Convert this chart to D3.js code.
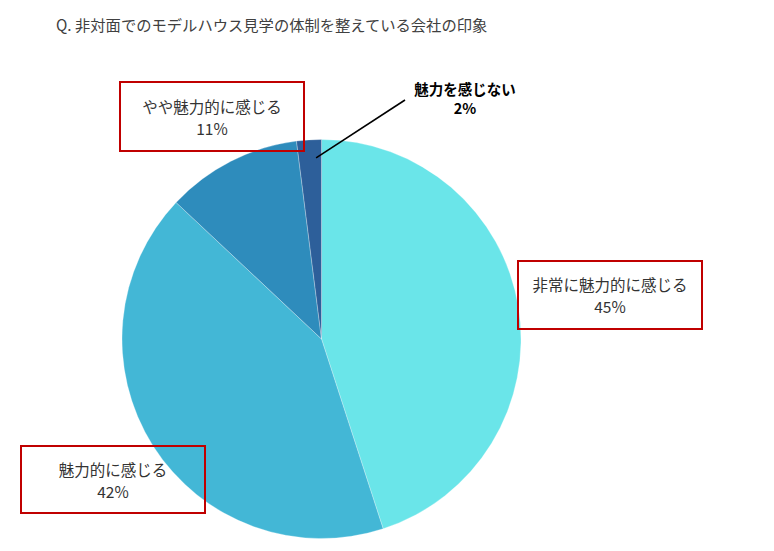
<!DOCTYPE html>
<html>
<head>
<meta charset="utf-8">
<script src="https://cdn.jsdelivr.net/npm/d3@7"></script>
<style>
body{margin:0;background:#fff;}
text{font-family:"Noto Sans CJK JP","Noto Sans",sans-serif;}
</style>
</head>
<body>
<script>
var WIDTH = 774, HEIGHT = 551;
var CX = 321.5, CY = 339, RADIUS = 199.5;

var categories = ["非常に魅力的に感じる","魅力的に感じる","やや魅力的に感じる","魅力を感じない"];
var values = [45, 42, 11, 2];
var colors = ["#6ae5e9","#43b7d6","#2e8cbc","#2d5f9a"];
var title = "Q. 非対面でのモデルハウス見学の体制を整えている会社の印象";

// label boxes (x, y, w, h) for the boxed labels, text centres for the rest
var boxes = [
	{x:518, y:261, w:184, h:68},
	{x:21, y:446, w:184, h:67},
	{x:120, y:82, w:184, h:69},
	null
];

var _svg = d3.select('body').append('svg')
	.attr('width',WIDTH)
	.attr('height',HEIGHT);

_svg.append('text')
	.attr('x',56).attr('y',31)
	.attr('font-size',15.3)
	.attr('fill','#404040')
	.text(title);

var pie = d3.pie().sort(null).value(function(d){return d});
var arc = d3.arc().innerRadius(0).outerRadius(RADIUS);
var arcs = pie(values);

var g = _svg.append('g').attr('transform','translate('+CX+','+CY+')');

g.selectAll('path').data(arcs)
	.enter()
	.append('path')
	.attr('d',arc)
	.attr('fill',function(d,i){return colors[i]})
	.attr('stroke','#ffffff')
	.attr('stroke-opacity',0.35)
	.attr('stroke-width',0.8);

// leader line for the small slice
var small = arcs[3];
var mid = (small.startAngle + small.endAngle)/2;
var r0 = RADIUS*0.91;
_svg.append('line')
	.attr('x1',CX + Math.sin(mid)*r0 + 6)
	.attr('y1',CY - Math.cos(mid)*r0)
	.attr('x2',405).attr('y2',100)
	.attr('stroke','#000').attr('stroke-width',1.6);

var lab = _svg.append('g');
boxes.forEach(function(b,i){
	if(b){
		lab.append('rect')
			.attr('x',b.x).attr('y',b.y).attr('width',b.w).attr('height',b.h)
			.attr('fill','none').attr('stroke','#c00000').attr('stroke-width',2);
		var cx = b.x + b.w/2, cy = b.y + b.h/2;
		lab.append('text').attr('x',cx).attr('y',cy-4)
			.attr('text-anchor','middle').attr('font-size',15.5).attr('fill','#333')
			.text(categories[i]);
		lab.append('text').attr('x',cx).attr('y',cy+18)
			.attr('text-anchor','middle').attr('font-size',15.5).attr('fill','#333')
			.text(values[i]+'%');
	} else {
		lab.append('text').attr('x',465).attr('y',95)
			.attr('text-anchor','middle').attr('font-size',14.5).attr('font-weight','bold').attr('fill','#000')
			.text(categories[i]);
		lab.append('text').attr('x',465).attr('y',114)
			.attr('text-anchor','middle').attr('font-size',14.5).attr('font-weight','bold').attr('fill','#000')
			.text(values[i]+'%');
	}
});
</script>
</body>
</html>
